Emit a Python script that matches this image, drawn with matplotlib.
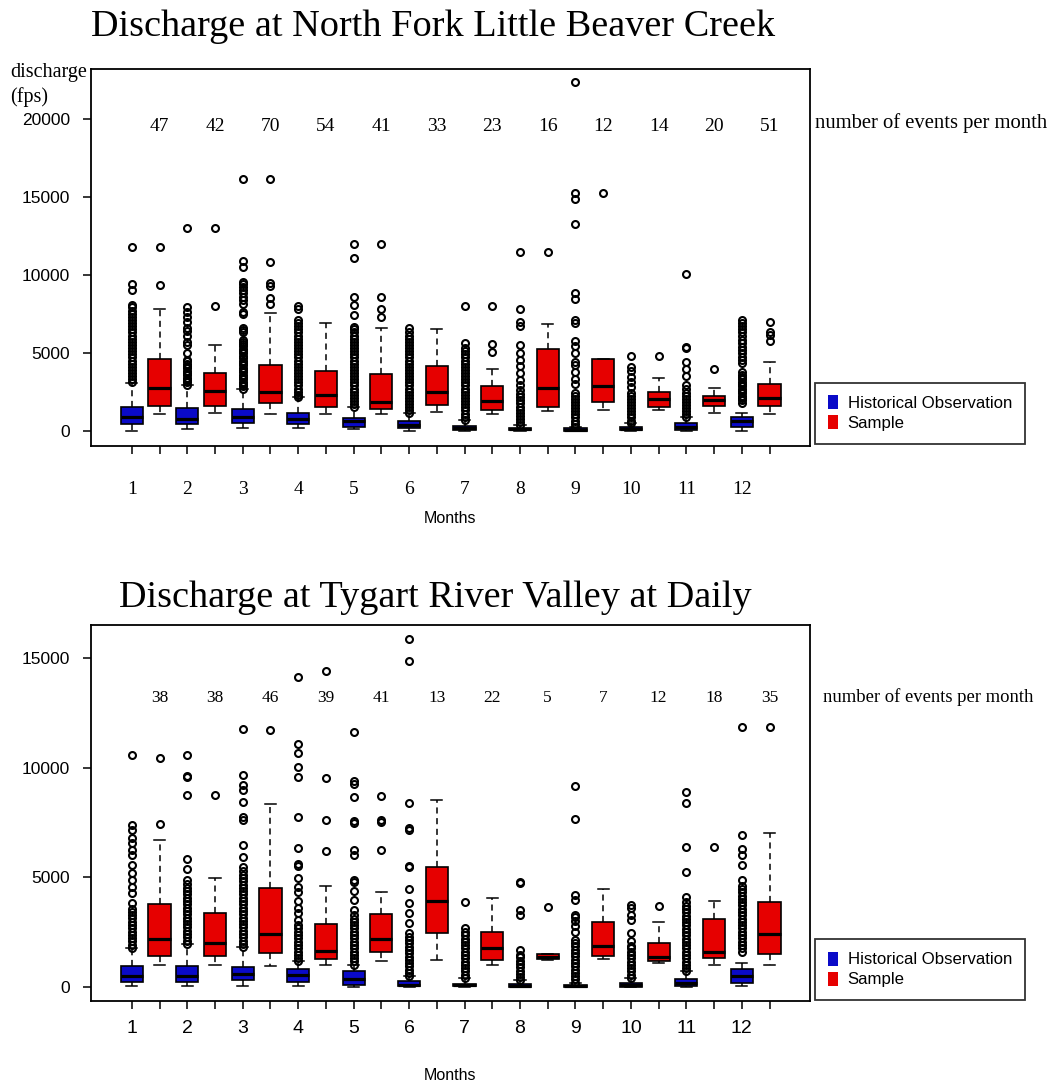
import matplotlib.pyplot as plt
from matplotlib.patches import Patch

months = list(range(1, 13))

# ---- North Fork Little Beaver Creek ----
# box stats per month: (whislo, q1, median, q3, whishi)
nf_hist = [(0, 406, 855, 1496, 3077), (85, 406, 727, 1453, 2928), (150, 513, 876, 1410, 2671),
           (150, 406, 727, 1154, 2137), (85, 235, 620, 812, 1517), (0, 150, 363, 620, 1111),
           (0, 43, 192, 320, 684), (0, 20, 85, 190, 363), (0, 10, 60, 180, 256),
           (0, 15, 80, 256, 470), (0, 43, 256, 470, 855), (0, 256, 620, 898, 1154)]
nf_hist_fliers = [
    [3100, 3300, 3500, 3700, 3900, 4100, 4300, 4500, 4700, 4900, 5100, 5300, 5500, 5700, 5900, 6100,
     6300, 6500, 6700, 6900, 7100, 7300, 7500, 7700, 7900, 8050, 9020, 9400, 11800],
    [2930, 3100, 3250, 3400, 3550, 3700, 3850, 4000, 4150, 4300, 4450, 4530, 5000, 5490, 5700, 6100,
     6400, 6600, 7000, 7300, 7600, 7950, 12970],
    [2670, 2850, 3000, 3150, 3300, 3450, 3600, 3750, 3900, 4050, 4200, 4350, 4500, 4650, 4800, 4950,
     5100, 5250, 5400, 5550, 5700, 5810, 6300, 6450, 6600, 7500, 7600, 8100, 8400, 8600, 8800, 9000,
     9200, 9400, 9550, 10510, 10880, 16130],
    [2140, 2300, 2500, 2700, 2900, 3100, 3300, 3500, 3700, 3900, 4100, 4300, 4500, 4700, 4900, 5100,
     5300, 5500, 5700, 5900, 6100, 6300, 6500, 6700, 6900, 7100, 7780, 7990],
    [1520, 1700, 1900, 2100, 2300, 2500, 2700, 2900, 3100, 3300, 3500, 3700, 3900, 4100, 4300, 4500,
     4700, 4900, 5100, 5300, 5500, 5700, 5900, 6100, 6300, 6500, 6670, 7420, 8060, 8590, 11050, 11990],
    [1110, 1300, 1500, 1700, 1900, 2100, 2300, 2500, 2700, 2900, 3100, 3300, 3500, 3700, 3900, 4100,
     4300, 4500, 4700, 4900, 5100, 5300, 5500, 5700, 5900, 6100, 6300, 6560],
    [690, 900, 1100, 1300, 1500, 1700, 1900, 2100, 2300, 2500, 2700, 2900, 3100, 3300, 3500, 3700,
     3900, 4100, 4300, 4500, 4700, 4900, 5100, 5300, 5600, 7990],
    [370, 550, 750, 950, 1150, 1350, 1550, 1750, 1950, 2150, 2350, 2600, 2930, 3250, 3680, 4170,
     4530, 4960, 5470, 6730, 6950, 7780, 11430],
    [260, 450, 650, 850, 1050, 1250, 1450, 1650, 1850, 2050, 2250, 2390, 2990, 3290, 3780, 4210,
     4420, 4960, 5430, 5750, 6880, 7100, 8420, 8850, 13270, 14830, 15220, 22370],
    [470, 650, 850, 1050, 1250, 1450, 1650, 1850, 2050, 2250, 2400, 2820, 3140, 3460, 3800, 4100, 4790],
    [860, 1050, 1250, 1450, 1650, 1850, 2050, 2250, 2450, 2650, 2930, 3500, 3930, 4420, 5280, 5390, 10020],
    [1800, 1950, 2100, 2250, 2400, 2550, 2700, 2850, 3000, 3150, 3300, 3450, 3600, 3780, 4320, 4530,
     4750, 4960, 5170, 5390, 5600, 5800, 6100, 6300, 6500, 6700, 6900, 7100],
]
nf_samp = [(1069, 1603, 2714, 4573, 7779), (1111, 1603, 2543, 3676, 5470), (1069, 1752, 2457, 4210, 7565),
           (1069, 1539, 2287, 3847, 6924), (1069, 1389, 1816, 3611, 6603), (1175, 1667, 2500, 4146, 6496),
           (1069, 1325, 1923, 2864, 3932), (1261, 1496, 2714, 5214, 6817), (1325, 1859, 2864, 4573, 4573),
           (1325, 1496, 2009, 2500, 3398), (1154, 1603, 1966, 2222, 2757), (1069, 1581, 2073, 2970, 4381)]
nf_samp_fliers = [[9360, 11800], [7990, 12970], [8100, 8480, 9280, 9440, 10810, 16130], [],
                  [7310, 7780, 8550, 11990], [], [5070, 5540, 7990], [11430], [15220], [4790],
                  [3930], [5770, 6130, 6350, 6990]]
nf_counts = [47, 42, 70, 54, 41, 33, 23, 16, 12, 14, 20, 51]

# ---- Tygart River Valley at Daily ----
ty_hist = [(30, 227, 515, 939, 1773), (30, 227, 515, 939, 1970), (30, 303, 606, 909, 1818),
           (30, 227, 560, 818, 1167), (0, 106, 364, 712, 1015), (0, 30, 106, 258, 485),
           (0, 30, 80, 152, 409), (0, 20, 60, 120, 300), (0, 10, 40, 100, 200),
           (0, 15, 80, 182, 409), (0, 30, 182, 364, 712), (30, 182, 485, 818, 1091)]
ty_hist_fliers = [
    [1780, 1930, 2080, 2230, 2380, 2530, 2680, 2830, 2980, 3130, 3280, 3430, 3580, 3820, 4270, 4580,
     4880, 5180, 5560, 6010, 6240, 6550, 6770, 7150, 7380, 10560],
    [1970, 2120, 2270, 2420, 2570, 2720, 2870, 3020, 3170, 3320, 3470, 3620, 3770, 3920, 4070, 4220,
     4370, 4520, 4700, 4880, 5360, 5820, 8760, 9580, 9620, 10560],
    [1820, 1970, 2120, 2270, 2420, 2570, 2720, 2870, 3020, 3170, 3320, 3470, 3620, 3770, 3920, 4070,
     4220, 4370, 4520, 4670, 4820, 4970, 5120, 5270, 5480, 5940, 6470, 7610, 7760, 8440, 8970, 9200,
     9650, 11770],
    [1170, 1320, 1470, 1620, 1770, 1920, 2070, 2220, 2370, 2520, 2670, 2820, 3060, 3360, 3590, 3940,
     4350, 4580, 4950, 5520, 5600, 6320, 7760, 9580, 10030, 10670, 11060, 14120],
    [1020, 1170, 1320, 1470, 1620, 1770, 1920, 2070, 2220, 2370, 2520, 2670, 2820, 2970, 3120, 3270,
     3520, 3970, 4390, 4800, 4900, 6010, 6240, 7480, 7550, 8640, 9270, 9400, 11620],
    [490, 640, 790, 940, 1090, 1240, 1390, 1540, 1690, 1840, 1990, 2140, 2290, 2450, 2910, 3360,
     3820, 4450, 5480, 5500, 7180, 7250, 8390, 14850, 15860],
    [410, 560, 710, 860, 1010, 1160, 1310, 1460, 1610, 1760, 1910, 2060, 2210, 2360, 2510, 2680, 3890],
    [300, 450, 600, 750, 900, 1050, 1200, 1350, 1470, 1670, 3290, 3520, 4730, 4800],
    [200, 350, 500, 650, 800, 950, 1100, 1250, 1400, 1545, 1700, 1850, 2000, 2150, 2530, 2790, 2990,
     3210, 3290, 3970, 4200, 7680, 9150],
    [410, 560, 710, 860, 1010, 1160, 1310, 1460, 1610, 1760, 1850, 2080, 2450, 3060, 3290, 3590, 3740],
    [710, 860, 1010, 1160, 1310, 1460, 1610, 1760, 1910, 2060, 2210, 2360, 2510, 2660, 2810, 2960,
     3110, 3260, 3410, 3560, 3710, 3860, 4120, 5260, 6390, 8390, 8890],
    [1620, 1770, 1920, 2070, 2220, 2370, 2520, 2670, 2820, 2970, 3120, 3270, 3420, 3570, 3720, 3870,
     4020, 4170, 4320, 4470, 4620, 4880, 5560, 6010, 6270, 6950, 11850],
]
ty_samp = [(1015, 1394, 2197, 3772, 6696), (1015, 1394, 2000, 3394, 4984), (970, 1545, 2424, 4499, 8332),
           (1015, 1272, 1621, 2878, 4605), (1167, 1591, 2197, 3333, 4348), (1212, 2485, 3924, 5484, 8514),
           (1015, 1242, 1773, 2500, 4075), (1242, 1260, 1364, 1500, 1500), (1273, 1394, 1879, 2985, 4454),
           (1091, 1167, 1364, 2030, 2985), (1015, 1318, 1591, 3106, 3939), (1015, 1515, 2424, 3894, 7030)]
ty_samp_fliers = [[7420, 10440], [8760], [11700], [6210, 7610, 9530, 14390], [6240, 7530, 7600, 8700],
                  [], [], [3640], [], [3700], [6390], [11850]]
ty_counts = [38, 38, 46, 39, 41, 13, 22, 5, 7, 12, 18, 35]

BLUE = '#0a0ac8'
RED = '#e60000'
SERIF = 'Liberation Serif'
SANS = 'Liberation Sans'
W, H = 1051, 1082


def to_stats(rows, fliers):
    out = []
    for (lo, q1, med, q3, hi), fl in zip(rows, fliers):
        out.append(dict(whislo=lo, q1=q1, med=med, q3=q3, whishi=hi, fliers=fl))
    return out


def draw_panel(ax, hist, hist_fl, samp, samp_fl, counts, count_y, count_size,
               ylim, yticks, xfont, xpad):
    pos_h = [2 * m - 1 for m in months]
    pos_s = [2 * m for m in months]
    common = dict(widths=0.8, capwidths=0.4, patch_artist=True,
                  whiskerprops=dict(color='black', lw=1.1, linestyle=(0, (4, 3))),
                  capprops=dict(color='black', lw=1.1),
                  medianprops=dict(color='black', lw=2.3, solid_capstyle='butt'),
                  flierprops=dict(marker='o', markersize=5.0, markerfacecolor='none',
                                  markeredgecolor='black', markeredgewidth=1.5))
    b1 = ax.bxp(to_stats(hist, hist_fl), positions=pos_h, **common)
    b2 = ax.bxp(to_stats(samp, samp_fl), positions=pos_s, **common)
    for p in b1['boxes']:
        p.set_facecolor(BLUE)
        p.set_edgecolor('black')
        p.set_linewidth(1.2)
    for p in b2['boxes']:
        p.set_facecolor(RED)
        p.set_edgecolor('black')
        p.set_linewidth(1.2)

    for x, c in zip(pos_s, counts):
        ax.text(x, count_y, str(c), ha='center', va='center', fontsize=count_size, family=SERIF)

    ax.set_xlim(-0.46, 25.46)
    ax.set_ylim(*ylim)
    ax.set_yticks(yticks)
    ax.set_yticklabels([str(v) for v in yticks], fontsize=12.5, family=SANS)
    ax.set_xticks(list(range(1, 25)))
    ax.set_xticklabels([str(m) if i % 2 == 0 else '' for i, m in
                        enumerate([k for mm in months for k in (mm, mm)])],
                       fontsize=14, family=xfont)
    ax.tick_params(axis='both', direction='out', length=6, width=1.1)
    ax.tick_params(axis='y', pad=9.5)
    ax.tick_params(axis='x', pad=xpad)
    for s in ax.spines.values():
        s.set_linewidth(1.3)


fig = plt.figure(figsize=(W / 100, H / 100), dpi=100)

def axes_px(left, top, right, bottom):
    return fig.add_axes([left / W, 1 - bottom / H, (right - left) / W, (bottom - top) / H])

ax1 = axes_px(91.3, 69.3, 810, 445.7)
draw_panel(ax1, nf_hist, nf_hist_fliers, nf_samp, nf_samp_fliers, nf_counts, 19500, 14,
           (-960, 23167), [0, 5000, 10000, 15000, 20000], SERIF, 19.5)

ax2 = axes_px(91.3, 625, 810, 1001)
draw_panel(ax2, ty_hist, ty_hist_fliers, ty_samp, ty_samp_fliers, ty_counts, 13150, 12.5,
           (-635, 16499), [0, 5000, 10000, 15000], SANS, 8)

# titles and side texts
fig.text(433 / W, 1 - 27 / H, 'Discharge at North Fork Little Beaver Creek', ha='center', va='center',
         fontsize=27.5, family=SERIF)
fig.text(435 / W, 1 - 598 / H, 'Discharge at Tygart River Valley at Daily', ha='center', va='center',
         fontsize=27.5, family=SERIF)
fig.text(10 / W, 1 - 73 / H, 'discharge', ha='left', va='center', fontsize=14.5, family=SERIF)
fig.text(10 / W, 1 - 97 / H, '(fps)', ha='left', va='center', fontsize=14.5, family=SERIF)
fig.text(815 / W, 1 - 123 / H, 'number of events per month', ha='left', va='center',
         fontsize=14.9, family=SERIF)
fig.text(823 / W, 1 - 697 / H, 'number of events per month', ha='left', va='center',
         fontsize=13.4, family=SERIF)
fig.text(450 / W, 1 - 518 / H, 'Months', ha='center', va='center', fontsize=11.5, family=SANS)
fig.text(450 / W, 1 - 1075 / H, 'Months', ha='center', va='center', fontsize=11.5, family=SANS)

handles = [Patch(facecolor=BLUE, edgecolor='none', label='Historical Observation'),
           Patch(facecolor=RED, edgecolor='none', label='Sample')]
for top in (382.7, 939):
    leg = fig.legend(handles=handles, loc='upper left', bbox_to_anchor=(815 / W, 1 - top / H),
                     bbox_transform=fig.transFigure, frameon=True, fancybox=False,
                     prop={'family': SANS, 'size': 12.1}, handlelength=0.6, handleheight=0.9,
                     handletextpad=0.6, borderpad=0.75, labelspacing=0.25, borderaxespad=0)
    leg.get_frame().set_edgecolor('black')
    leg.get_frame().set_linewidth(1.3)

fig.savefig('out.png', dpi=100)
